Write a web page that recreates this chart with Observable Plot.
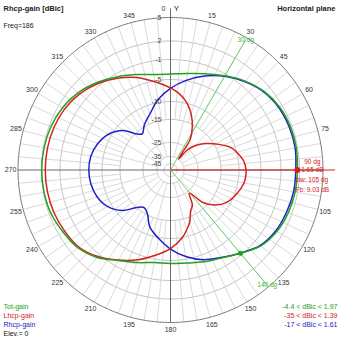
<!DOCTYPE html>
<html><head><meta charset="utf-8">
<script src="https://cdn.jsdelivr.net/npm/d3@7"></script>
<script src="https://cdn.jsdelivr.net/npm/@observablehq/plot@0.6"></script>
<style>body{margin:0;background:#fff}#chart svg{display:block}</style>
</head><body><div id="chart"></div>
<script>
// ---- data ----
const ringDb = [5, 2, -1, -5, -10, -15, -25, -35, -45];
const azimuthTicks = [15, 30, 45, 60, 75, 105, 120, 135, 150, 165, 180, 195, 210, 225, 240, 255, 270, 285, 300, 315, 330, 345];

const totAngles = [0,10,20,30,40,50,60,70,80,90,100,110,120,130,140,150,160,170,180,190,200,210,220,230,240,250,260,270,280,290,300,310,320,330,340,350];
const totGain   = [-3.9,-3.5,-2.6,-1.35,-0.1,0.9,1.5,1.75,1.8,1.65,1.6,1.4,1.0,0.2,-1.35,-2.8,-3.55,-4.2,-4.4,-4.3,-3.4,-2.2,-0.4,0.7,1.2,1.7,1.9,1.97,1.9,1.7,1.3,0.6,-0.4,-1.6,-2.8,-3.7];

const lhcpAngles = [0,6,12,18,24,30,33,36,40,45,53,63,70,75,83,90,94,100,111,120,128,135,141,148,154,160,166,170,180,190,200,210,220,230,240,250,260,270,280,290,300,310,320,330,340,350];
const lhcpGain   = [-6.9,-8.0,-9.4,-11.5,-14.2,-18.5,-21.5,-35,-26,-22,-17.8,-13.5,-11,-10,-8.8,-8.4,-8.4,-8.6,-9.7,-11,-13.2,-17,-24,-19,-17,-13.5,-11.4,-10,-7.7,-5.9,-4.0,-2.3,-0.6,0.5,0.9,1.2,1.35,1.39,1.35,1.2,0.9,0.3,-0.6,-1.9,-3.4,-5.2];

const rhcpAngles = [0,10,20,30,40,50,60,70,80,90,100,110,120,130,140,150,160,170,180,190,200,208,215,222,230,240,250,260,270,280,290,300,310,316,322,330,340,350];
const rhcpGain   = [-7.0,-4.9,-3.1,-1.45,-0.2,0.8,1.35,1.55,1.61,1.4,1.35,1.1,0.8,0.1,-1.4,-2.9,-4.0,-5.6,-7.6,-9.8,-12.2,-15.5,-17,-15,-11.5,-9.0,-7.8,-7.2,-7.0,-7.2,-8.0,-9.3,-12.0,-15,-17,-14.5,-12.4,-9.3];

const mainDir = 90, mainGain = 1.65;
const bwAngles = [30, 140];
const bwGain = -1.35;
const infoLines = ["90 dg", "1.65 dB", "bw: 105 dg", "Fb: 9.03 dB"];
const legendLeft = ["Tot-gain", "Lhcp-gain", "Rhcp-gain", "Elev.= 0"];
const legendRight = ["-4.4 < dBic < 1.97", "-35 < dBic < 1.39", "-17 < dBic < 1.61"];
const titleLeft = "Rhcp-gain [dBic]", subtitle = "Freq=186", titleRight = "Horizontal plane";

// ---- radial scale (piecewise, as in the reference grid) ----
const radius = d3.scaleLinear().domain([...ringDb].reverse()).range([6.5, 13.5, 27.5, 50.5, 68.5, 90.5, 110.5, 129, 152.5]);
const pol = (az, r) => ({x: r * Math.sin(az * Math.PI / 180), y: r * Math.cos(az * Math.PI / 180)});
const series = (angles, vals) => angles.map((a, i) => ({a, v: vals[i], ...pol(a, radius(vals[i]))}));

const GREEN = "#22a022", RED = "#d42020", BLUE = "#2020c8";
const rOuter = radius(ringDb[0]);

const rings = ringDb.slice(1).flatMap(db => d3.range(0, 360, 2).map(a => ({db, ...pol(a, radius(db))})));
const outerRing = d3.range(0, 360, 1).map(a => pol(a, rOuter));
const spokes = d3.range(0, 360, 5).filter(a => a % 90 !== 0).map(a => {
  const r0 = a % 15 === 0 ? radius(-35) : radius(-15);
  const p0 = pol(a, r0), p1 = pol(a, rOuter);
  return {x1: p0.x, y1: p0.y, x2: p1.x, y2: p1.y};
});
const axes = [
  {x1: 0, y1: -rOuter, x2: 0, y2: rOuter + 9},
  {x1: -rOuter, y1: 0, x2: rOuter, y2: 0}
];
const tickLabels = azimuthTicks.map(a => ({t: String(a), ...pol(a, 160)}));
const bwLines = bwAngles.map(a => ({a, p0: pol(a, 0), p1: pol(a, rOuter - 2), lab: pol(a, rOuter - 2)}));
const mainPt = pol(mainDir, radius(mainGain));
const mainLineEnd = pol(mainDir, rOuter + 12);
const bwPt = pol(bwAngles[1], radius(bwGain));

const fs = 7;
const infoDy = [-8, 0, 9.5, 19.5];
const legDy = [-33, -24, -15, -6];
const legFill = [GREEN, RED, BLUE, "#111"];

const chart = Plot.plot({
  width: 339, height: 339, margin: 0,
  x: {domain: [-170, 169], axis: null},
  y: {domain: [-169.5, 169.5], axis: null},
  style: {fontFamily: "'Liberation Sans', Arial, sans-serif", background: "#fff", overflow: "visible"},
  marks: [
    Plot.line(rings, {x: "x", y: "y", z: "db", curve: "linear-closed", stroke: "#c4c4c4", strokeWidth: 1}),
    Plot.link(spokes, {x1: "x1", y1: "y1", x2: "x2", y2: "y2", stroke: "#cfcfcf", strokeWidth: 0.8}),
    Plot.line(outerRing, {x: "x", y: "y", curve: "linear-closed", stroke: "#7a7a7a", strokeWidth: 1}),
    Plot.link(axes, {x1: "x1", y1: "y1", x2: "x2", y2: "y2", stroke: "#6a6a6a", strokeWidth: 1}),
    Plot.link(bwLines, {x1: d => d.p0.x, y1: d => d.p0.y, x2: d => d.p1.x, y2: d => d.p1.y, stroke: "#5ccc5c", strokeWidth: 0.9}),
    Plot.link([0], {x1: 0, y1: 0, x2: () => mainLineEnd.x, y2: () => mainLineEnd.y, stroke: RED, strokeWidth: 1}),
    Plot.line(series(rhcpAngles, rhcpGain), {x: "x", y: "y", curve: "catmull-rom-closed", stroke: BLUE, strokeWidth: 1.5}),
    Plot.line(series(lhcpAngles, lhcpGain), {x: "x", y: "y", curve: "catmull-rom-closed", stroke: RED, strokeWidth: 1.5}),
    Plot.line(series(totAngles, totGain), {x: "x", y: "y", curve: "catmull-rom-closed", stroke: GREEN, strokeWidth: 1.5}),
    Plot.dot([mainPt], {x: "x", y: "y", r: 3, fill: RED}),
    Plot.dot([bwPt], {x: "x", y: "y", r: 2.5, fill: GREEN}),
    Plot.text(ringDb, {x: 0, y: d => radius(d), text: d => String(d), textAnchor: "end", dx: -9, fontSize: fs, fill: "#444"}),
    Plot.text(tickLabels, {x: "x", y: "y", text: "t", fontSize: fs, fill: "#333"}),
    Plot.text([0], {x: 0, y: () => rOuter + 9, text: () => "0", dx: -7, fontSize: fs, fill: "#333"}),
    Plot.text([0], {x: 0, y: () => rOuter + 9, text: () => "Y", dx: 6, fontSize: 8, fill: "#222"}),
    Plot.text(bwLines, {x: d => d.lab.x, y: d => d.lab.y, text: d => d.a + " dg", fontSize: 6.5, fill: "#33bb33"}),
    ...infoLines.map((t, i) => Plot.text([t], {x: () => mainPt.x, y: () => mainPt.y, text: d => d, dx: 15, dy: infoDy[i], fontSize: 6.5, fill: RED})),
    Plot.text([titleLeft], {frameAnchor: "top-left", text: d => d, dx: 3, dy: 8, lineAnchor: "middle", fontSize: 7.5, fontWeight: "bold", fill: "#222"}),
    Plot.text([subtitle], {frameAnchor: "top-left", text: d => d, dx: 3, dy: 25, lineAnchor: "middle", fontSize: fs, fill: "#222"}),
    Plot.text([titleRight], {frameAnchor: "top-right", text: d => d, dx: -4, dy: 8, lineAnchor: "middle", fontSize: 7.5, fontWeight: "bold", fill: "#222"}),
    ...legendLeft.map((t, i) => Plot.text([t], {frameAnchor: "bottom-left", text: d => d, dx: 3, dy: legDy[i], lineAnchor: "middle", fontSize: fs, fill: legFill[i]})),
    ...legendRight.map((t, i) => Plot.text([t], {frameAnchor: "bottom-right", text: d => d, dx: -2, dy: legDy[i], lineAnchor: "middle", fontSize: fs, fill: legFill[i]}))
  ]
});
document.getElementById("chart").append(chart);
</script>
</body></html>
